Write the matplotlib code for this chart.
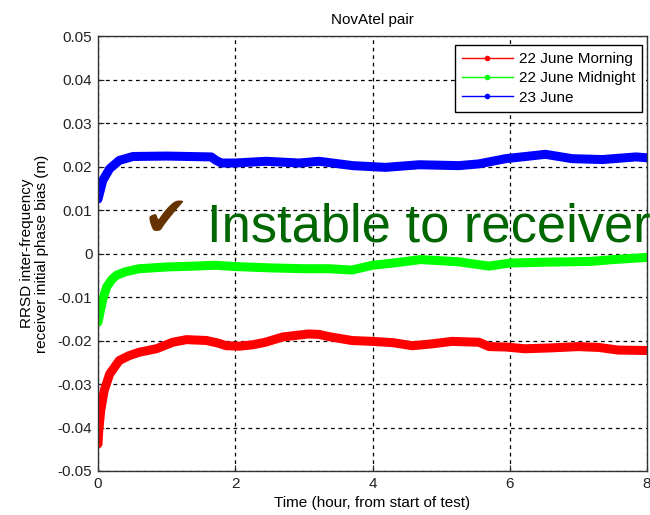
import matplotlib
matplotlib.use("Agg")
import matplotlib.pyplot as plt

plt.rcParams["font.family"] = ["Liberation Sans", "DejaVu Sans"]
plt.rcParams["axes.unicode_minus"] = False

# RRSD inter-frequency receiver initial phase bias (m) vs. time (hours)
morning_t = [0, 0.01, 0.04, 0.09, 0.17, 0.31, 0.45, 0.6, 0.85, 1.09, 1.29, 1.58, 1.75,
             1.87, 2.06, 2.25, 2.44, 2.69, 2.9, 3.07, 3.22, 3.36, 3.7, 4.0, 4.3, 4.58,
             4.85, 5.16, 5.55, 5.7, 5.95, 6.22, 6.6, 7.0, 7.3, 7.58, 8.0]
morning_v = [-0.0438, -0.041, -0.036, -0.0315, -0.0277, -0.0246, -0.0235, -0.0227,
             -0.0219, -0.0204, -0.0198, -0.0200, -0.0206, -0.0212, -0.0213, -0.0210,
             -0.0204, -0.0192, -0.0188, -0.0185, -0.0186, -0.0191, -0.0200, -0.0202,
             -0.0205, -0.0212, -0.0208, -0.0202, -0.0204, -0.0214, -0.0215, -0.0219,
             -0.0217, -0.0214, -0.0216, -0.0222, -0.0223]

midnight_t = [0, 0.03, 0.07, 0.126, 0.2, 0.27, 0.4, 0.6, 1.0, 1.4, 1.7, 2.0, 2.5, 3.0,
              3.36, 3.7, 4.0, 4.3, 4.7, 5.25, 5.7, 6.0, 6.5, 6.9, 7.2, 7.5, 8.0]
midnight_v = [-0.0158, -0.0135, -0.0105, -0.0077, -0.0060, -0.0050, -0.0042, -0.0035,
              -0.0031, -0.0029, -0.0027, -0.0030, -0.0033, -0.0035, -0.0035, -0.0038,
              -0.0027, -0.0022, -0.0014, -0.0019, -0.0029, -0.0022, -0.0020, -0.0019,
              -0.0018, -0.0014, -0.0009]

june23_t = [0, 0.07, 0.17, 0.31, 0.51, 1.0, 1.65, 1.72, 1.8, 2.0, 2.45, 2.93, 3.22,
            3.71, 4.19, 4.68, 5.26, 5.55, 5.94, 6.52, 6.91, 7.35, 7.84, 8.0]
june23_v = [0.0125, 0.0168, 0.0195, 0.0214, 0.0223, 0.0224, 0.0222, 0.0214, 0.0208,
            0.0208, 0.0212, 0.0208, 0.0212, 0.0202, 0.0198, 0.0204, 0.0202, 0.0206,
            0.0218, 0.0228, 0.0218, 0.0216, 0.0222, 0.0220]

series_names = ["22 June Morning", "22 June Midnight", "23 June"]
series_colors = ["#ff0000", "#00ff00", "#0000ff"]

x_ticks = [0, 2, 4, 6, 8]
y_ticks = [-0.05, -0.04, -0.03, -0.02, -0.01, 0, 0.01, 0.02, 0.03, 0.04, 0.05]
y_tick_labels = ["-0.05", "-0.04", "-0.03", "-0.02", "-0.01", "0",
                 "0.01", "0.02", "0.03", "0.04", "0.05"]

fig = plt.figure(figsize=(6.5, 5.15), dpi=100)
fig.patch.set_facecolor("white")
ax = fig.add_axes([98 / 650, 1 - 471 / 515, (647 - 98) / 650, (471 - 36) / 515])

data = [(morning_t, morning_v), (midnight_t, midnight_v), (june23_t, june23_v)]
for (t, v), name, color in zip(data, series_names, series_colors):
    # thick band for the dense samples, proxy line for the legend
    ax.plot(t, v, color=color, lw=6.5, solid_capstyle="round", solid_joinstyle="round")
    ax.plot([], [], color=color, lw=1, marker=".", markersize=6, label=name)

ax.set_xlim(0, 8)
ax.set_ylim(-0.05, 0.05)
ax.set_xticks(x_ticks)
ax.set_xticklabels([str(x) for x in x_ticks])
ax.set_yticks(y_ticks)
ax.set_yticklabels(y_tick_labels)
ax.tick_params(direction="in", length=4, labelsize=11, colors="#222222", pad=4)
ax.set_axisbelow(True)
ax.grid(True, color="black", linestyle=(0, (3, 3)), lw=0.9)
for s in ax.spines.values():
    s.set_color("#333333")
    s.set_linewidth(1)

ax.set_title("NovAtel pair", fontsize=11, pad=9)
ax.set_xlabel("Time (hour, from start of test)", fontsize=11, labelpad=4)
ax.set_ylabel("RRSD inter-frequency\nreceiver initial phase bias (m)", fontsize=11,
              labelpad=6, linespacing=1.1)

leg = ax.legend(loc="upper right", bbox_to_anchor=(0.991, 0.979), borderaxespad=0,
                fontsize=11, fancybox=False, framealpha=1, edgecolor="black",
                handlelength=3.3, handletextpad=0.4, labelspacing=0.35,
                borderpad=0.45)
leg.get_frame().set_linewidth(1)

fig.text(143 / 650, 1 - 236 / 515, "\u2714", fontsize=40, color="#663300",
         family="DejaVu Sans", va="baseline")
fig.text(207 / 650, 1 - 242 / 515, "Instable to receiver", fontsize=37.8,
         color="#006600", va="baseline")

fig.savefig("out.png", dpi=100)
